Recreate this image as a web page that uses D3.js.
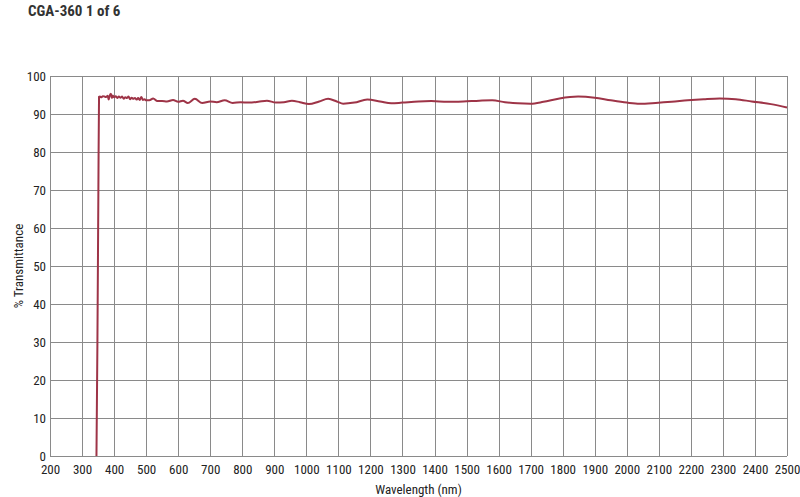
<!DOCTYPE html>
<html>
<head>
<meta charset="utf-8">
<script src="https://cdn.jsdelivr.net/npm/d3@7"></script>
<style>
  body { margin: 0; background: #fff; }
  svg text { font-family: "Liberation Sans Narrow", "Arial Narrow", "Roboto Condensed", sans-serif; fill: #222; }
</style>
</head>
<body>
<div id="chart"></div>
<script>
// Wavelength (nm) and % transmittance
const wavelengths = [345, 348, 351, 353, 356, 360, 365, 370, 375, 380, 383, 386, 390, 393, 396,
    400, 405, 410, 415, 420, 425, 430, 435, 440, 445, 450, 455, 460, 465, 470, 475, 480, 485, 490, 495,
    500, 510, 522, 535, 550, 565, 584, 600, 615, 630, 652, 675, 700, 720, 745, 770, 795, 820, 850,
    877, 905, 930, 955, 980, 1008, 1040, 1068, 1095, 1115, 1150, 1190, 1230, 1265, 1300, 1350, 1390,
    1440, 1490, 1540, 1580, 1620, 1660, 1700, 1740, 1790, 1848, 1900, 1950, 2000, 2040, 2090, 2140,
    2190, 2240, 2290, 2340, 2390, 2450, 2500];
const transmittance = [0, 30, 70, 94.5, 94.6, 94.4, 94.7, 94.6, 94.5, 94.8, 93.8, 94.8, 95.3, 94.2, 94.9,
    94.4, 94.7, 94.2, 94.6, 94.3, 94.6, 94.0, 94.4, 94.2, 94.6, 93.9, 94.3, 94.0, 94.2, 93.8, 94.2, 93.7, 94.5, 93.7, 93.9,
    93.6, 93.6, 94.1, 93.4, 93.4, 93.3, 93.7, 93.2, 93.5, 92.9, 94.0, 92.9, 93.3, 93.1, 93.6, 92.9, 93.1, 93.0, 93.2,
    93.5, 93.0, 93.1, 93.5, 93.1, 92.6, 93.3, 94.0, 93.3, 92.7, 93.0, 93.8, 93.3, 92.8, 93.0, 93.3, 93.4,
    93.2, 93.3, 93.5, 93.6, 93.1, 92.8, 92.7, 93.2, 94.1, 94.6, 94.3, 93.6, 93.0, 92.7, 92.9, 93.2,
    93.6, 93.9, 94.1, 93.9, 93.3, 92.6, 91.7];

const xTicks = d3.range(200, 2501, 100);
const yTicks = d3.range(0, 101, 10);

const W = 800, H = 497;
const margin = { top: 76, right: 13, bottom: 41, left: 50 };
const width = W - margin.left - margin.right;
const height = H - margin.top - margin.bottom;

const svg = d3.select('#chart').append('svg')
    .attr('width', W)
    .attr('height', H);

// Title
svg.append('text')
    .attr('x', 28)
    .attr('y', 16)
    .style('font-size', '15px')
    .style('font-weight', 'bold')
    .style('fill', '#333')
    .text('CGA-360 1 of 6');

const g = svg.append('g')
    .attr('transform', `translate(${margin.left},${margin.top})`);

const x = d3.scaleLinear().domain([200, 2500]).range([0, width]);
const y = d3.scaleLinear().domain([0, 100]).range([height, 0]);

// Grid lines (includes frame)
g.append('g')
    .selectAll('line')
    .data(xTicks)
    .enter()
    .append('line')
    .attr('x1', d => Math.round(x(d)) + 0.5)
    .attr('x2', d => Math.round(x(d)) + 0.5)
    .attr('y1', 0)
    .attr('y2', height)
    .attr('stroke', '#8a8a8a')
    .attr('stroke-width', 1);

g.append('g')
    .selectAll('line')
    .data(yTicks)
    .enter()
    .append('line')
    .attr('x1', 0)
    .attr('x2', width)
    .attr('y1', d => Math.round(y(d)) + 0.5)
    .attr('y2', d => Math.round(y(d)) + 0.5)
    .attr('stroke', '#8a8a8a')
    .attr('stroke-width', 1);

// X axis labels
const xAxis = g.append('g')
    .attr('transform', `translate(0,${height})`)
    .call(d3.axisBottom(x).tickValues(xTicks).tickSize(0).tickPadding(9).tickFormat(d3.format('d')));
xAxis.select('.domain').remove();
xAxis.selectAll('text')
    .style('font-size', '13px')
    .style('fill', '#222');

// Y axis labels
const yAxis = g.append('g')
    .call(d3.axisLeft(y).tickValues(yTicks).tickSize(0).tickPadding(4));
yAxis.select('.domain').remove();
yAxis.selectAll('text')
    .style('font-size', '13px')
    .style('fill', '#222');

// Axis titles
svg.append('text')
    .attr('x', margin.left + width / 2)
    .attr('y', 494)
    .attr('text-anchor', 'middle')
    .style('font-size', '13px')
    .text('Wavelength (nm)');

svg.append('text')
    .attr('transform', 'rotate(-90)')
    .attr('x', -(margin.top + height / 2))
    .attr('y', 23)
    .attr('text-anchor', 'middle')
    .style('font-size', '13px')
    .text('% Transmittance');

// Transmittance curve
const points = wavelengths.map((w, i) => [w, transmittance[i]]);
const line = d3.line()
    .x(d => x(d[0]))
    .y(d => y(d[1]))
    .curve(d3.curveMonotoneX);

g.append('path')
    .datum(points)
    .attr('fill', 'none')
    .attr('stroke', '#9e3447')
    .attr('stroke-width', 2)
    .attr('stroke-linejoin', 'round')
    .attr('d', line);
</script>
</body>
</html>
